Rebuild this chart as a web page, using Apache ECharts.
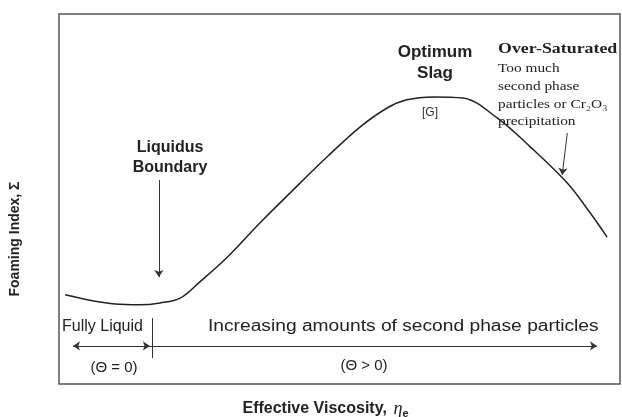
<!DOCTYPE html>
<html>
<head>
<meta charset="utf-8">
<script src="https://cdn.jsdelivr.net/npm/echarts@6/dist/echarts.min.js"></script>
<style>
  html, body { margin: 0; padding: 0; background: #fff; }
  #main { width: 622px; height: 417px; }
</style>
</head>
<body>
<div id="main"></div>
<script>
// curve (arbitrary units, 0-100 on both axes)
var viscosity = [1.1, 10.0, 14.4, 18.0, 21.6, 25.1, 29.9, 35.8, 41.7, 47.8, 53.7, 58.5, 62.0, 66.7, 72.0, 78.1, 84.0, 90.6, 94.7, 97.7];
var foaming   = [24.1, 21.6, 21.4, 21.9, 23.2, 27.6, 34.1, 43.5, 52.4, 61.4, 69.5, 74.6, 76.8, 77.6, 77.3, 71.9, 64.1, 54.3, 46.2, 39.7];

// annotation arrows [x1, y1, x2, y2, startSymbol, endSymbol]
var arrows = [
  [17.8, 55.1, 17.8, 28.9, 'none', 'arrow'],   // liquidus boundary
  [90.6, 67.8, 89.7, 56.5, 'none', 'arrow'],   // over-saturated
  [2.5, 10.3, 16.2, 10.3, 'arrow', 'arrow'],   // fully liquid range
  [16.2, 10.3, 95.9, 10.3, 'none', 'arrow'],   // second phase range
  [16.6, 17.8, 16.6, 7.0, 'none', 'none']      // separator tick
];

var curve = viscosity.map(function (v, i) { return [v, foaming[i]]; });

var myChart = echarts.init(document.getElementById('main'));

var sans = 'Liberation Sans, Arial, sans-serif';
var serif = 'Liberation Serif, Times New Roman, serif';

var option = {
    backgroundColor: '#fff',
    animation: false,
    grid: {
        left: 59, top: 14, right: 2, bottom: 33,
        outerBoundsMode: 'none',
        containLabel: false,
        show: true,
        borderColor: '#555',
        borderWidth: 1.5
    },
    xAxis: {
        type: 'value', min: 0, max: 100,
        axisLine: { show: false }, axisTick: { show: false },
        axisLabel: { show: false }, splitLine: { show: false },
        name: '{b|Effective Viscosity,}  {e|η}{s|e}',
        nameLocation: 'middle',
        nameGap: 15,
        nameTextStyle: {
            padding: [0, 28, 0, 0],
            rich: {
                b: { fontFamily: sans, fontWeight: 'bold', fontSize: 16, color: '#222', lineHeight: 20 },
                e: { fontFamily: serif, fontStyle: 'italic', fontSize: 18, color: '#222', lineHeight: 20 },
                s: { fontFamily: sans, fontWeight: 'bold', fontSize: 11, color: '#222', lineHeight: 14, verticalAlign: 'bottom' }
            }
        }
    },
    yAxis: {
        type: 'value', min: 0, max: 100,
        axisLine: { show: false }, axisTick: { show: false },
        axisLabel: { show: false }, splitLine: { show: false },
        name: 'Foaming Index, Σ',
        nameLocation: 'middle',
        nameGap: 37,
        nameTextStyle: {
            fontFamily: sans, fontWeight: 'bold', fontSize: 14, color: '#222',
            padding: [0, 80, 0, 0]
        }
    },
    series: [{
        type: 'line',
        data: curve,
        smooth: 0.35,
        showSymbol: false,
        lineStyle: { color: '#222', width: 1.5 },
        markLine: {
            silent: true,
            symbolSize: 7,
            label: { show: false },
            lineStyle: { color: '#333', width: 1, type: 'solid' },
            data: arrows.map(function (a) {
                return [
                    { coord: [a[0], a[1]], symbol: a[4] },
                    { coord: [a[2], a[3]], symbol: a[5] }
                ];
            })
        }
    }],
    graphic: [
        { type: 'text', x: 435, y: 42, style: { text: 'Optimum\nSlag', align: 'center', verticalAlign: 'top', font: 'bold 17px ' + sans, fill: '#222', lineHeight: 21 } },
        { type: 'text', x: 430, y: 113, style: { text: '[G]', align: 'center', verticalAlign: 'middle', font: '12px ' + sans, fill: '#333' } },
        { type: 'text', x: 498, y: 42, scaleX: 1.19, style: { text: 'Over-Saturated', font: 'bold 15px ' + serif, fill: '#222', verticalAlign: 'top' } },
        { type: 'text', x: 498, y: 60, scaleX: 1.18, style: { text: 'Too much\nsecond phase\nparticles or Cr₂O₃\nprecipitation', font: '13px ' + serif, fill: '#222', lineHeight: 17.7, verticalAlign: 'top' } },
        { type: 'text', x: 170, y: 138, style: { text: 'Liquidus\nBoundary', align: 'center', verticalAlign: 'top', font: 'bold 16px ' + sans, fill: '#222', lineHeight: 20 } },
        { type: 'text', x: 62, y: 327, style: { text: 'Fully Liquid', font: '16px ' + sans, fill: '#222', verticalAlign: 'middle' } },
        { type: 'text', x: 208, y: 327, scaleX: 1.2, style: { text: 'Increasing amounts of second phase particles', font: '16px ' + sans, fill: '#222', verticalAlign: 'middle' } },
        { type: 'text', x: 114, y: 368, style: { text: '(Θ = 0)', align: 'center', verticalAlign: 'middle', font: '15px ' + sans, fill: '#222' } },
        { type: 'text', x: 364, y: 366, style: { text: '(Θ > 0)', align: 'center', verticalAlign: 'middle', font: '15px ' + sans, fill: '#222' } }
    ]
};

myChart.setOption(option);
</script>
</body>
</html>
